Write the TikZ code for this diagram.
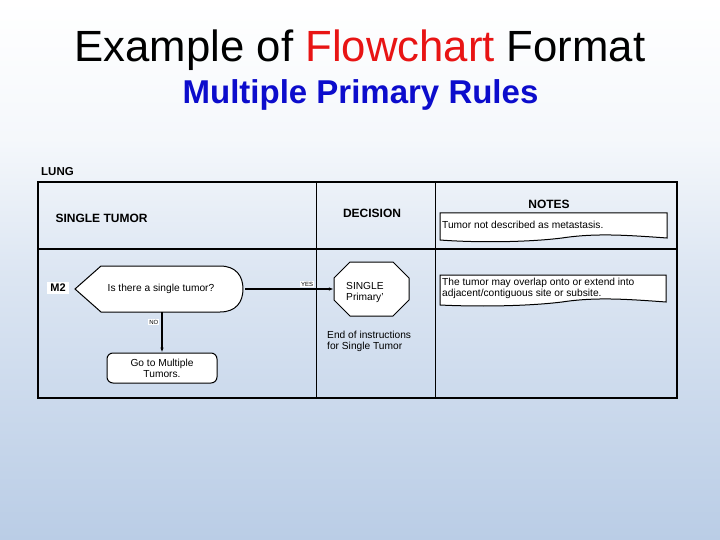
\documentclass[tikz,border=0pt]{standalone}
\usepackage{fontspec}
\setmainfont{Liberation Sans}
\usetikzlibrary{arrows.meta}
\definecolor{slideblue}{RGB}{186,205,230}
\definecolor{titlered}{RGB}{232,20,20}
\definecolor{subblue}{RGB}{12,12,204}
\pgfdeclareverticalshading{slidebg}{100bp}{color(0bp)=(slideblue); color(25bp)=(slideblue);
  color(38bp)=(white!25!slideblue); color(50bp)=(white!50!slideblue);
  color(62bp)=(white!85!slideblue); color(75bp)=(white); color(100bp)=(white)}

\begin{document}
\begin{tikzpicture}[x=1pt,y=-1pt,
    hdr/.style={font=\bfseries\fontsize{12}{14}\selectfont},
    txt/.style={font=\fontsize{10.2}{11}\selectfont, align=left, inner sep=0pt},
    shapeline/.style={draw=black, fill=white, line width=1pt},
    flow/.style={line width=1.4pt, -{Latex[length=5pt,width=3.5pt]}},
    tag/.style={font=\fontsize{6}{7}\selectfont, fill=white, inner sep=1pt}]
    % Slide background
    \shade[shading=slidebg] (0,0) rectangle (720,540);
    \useasboundingbox (0,0) rectangle (720,540);
    % Title
    \node[anchor=base] (title) at (360,62) {\fontsize{43.7}{48}\selectfont Example of \textcolor{titlered}{Flowchart} Format};
    \node[anchor=base, text=subblue] (subtitle) at (360.5,104) {\bfseries\fontsize{33}{36}\selectfont Multiple Primary Rules};
    % Table frame
    \node[anchor=base west, inner sep=0pt, font=\bfseries\fontsize{11.5}{13}\selectfont] (lung) at (41,176) {LUNG};
    \draw[line width=1.2pt] (38,182) rectangle (677,398);
    \draw[line width=1.8pt] (38,249) -- (677,249);
    \draw[line width=1pt] (316,182) -- (316,398);
    \draw[line width=1pt] (435,182) -- (435,398);
    % Column headers
    \node[hdr, anchor=west] (single) at (52,218) {SINGLE TUMOR};
    \node[hdr] (decision) at (372,213) {DECISION};
    \node[hdr] (notes) at (549,204) {NOTES};
    % Notes
    \draw[shapeline] (440,213) -- (667,213) -- (667,238) .. controls (625,235) and (595,233) .. (562,238)
        .. controls (530,242) and (480,243) .. (440,240) -- cycle;
    \node[txt, anchor=west] (note1) at (442,225) {Tumor not described as metastasis.};
    \draw[shapeline] (440,275) -- (666,275) -- (666,302) .. controls (625,299) and (595,297) .. (562,302)
        .. controls (530,306) and (480,307) .. (440,305) -- cycle;
    \node[txt, anchor=west] (note2) at (442,288.5) {The tumor may overlap onto or extend into\\adjacent/contiguous site or subsite.};
    % Decision M2
    \draw[shapeline] (75,289) -- (101,266) -- (220,266) .. controls (236,266) and (243,276) .. (243,289)
        .. controls (243,302) and (236,312) .. (220,312) -- (101,312) -- cycle;
    \node[minimum width=168pt, minimum height=46pt, inner sep=0pt, font=\fontsize{10.2}{11}\selectfont] (dec) at (161,289) {Is there a single tumor?};
    \node[fill=white, inner xsep=3pt, inner ysep=2pt, font=\bfseries\fontsize{11}{12}\selectfont] (m2) at (58,288) {M2};
    % Single primary (stop)
    \draw[shapeline] (350,262) -- (393,262) -- (409,278) -- (409,300) -- (393,316) -- (350,316) -- (334,300) -- (334,278) -- cycle;
    \node[minimum width=75pt, minimum height=54pt, inner sep=0pt] (stop) at (371.5,289) {};
    \node[txt, anchor=west] (stoptext) at (346,292) {SINGLE\\Primary'};
    \node[txt, anchor=north west] (endtext) at (327,331) {End of instructions\\for Single Tumor};
    % Go to multiple tumors
    \node[shapeline, rounded corners=6pt, minimum width=110pt, minimum height=30pt, align=center,
        font=\fontsize{10.2}{11}\selectfont] (multi) at (162,368) {Go to Multiple\\Tumors.};
    % Connectors
    \draw[flow] (dec.east) -- (stop.west) node[tag, pos=0.7, above=1pt] {YES};
    \draw[flow] (dec.south -| multi.north) -- (multi.north) node[tag, pos=0.25, left=2pt] {NO};
\end{tikzpicture}
\end{document}
